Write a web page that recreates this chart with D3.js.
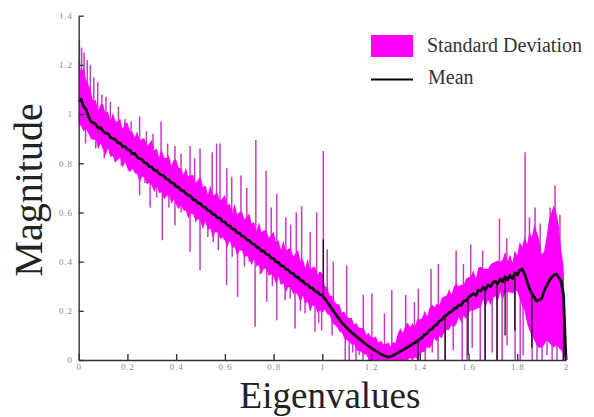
<!DOCTYPE html>
<html><head><meta charset="utf-8">
<script src="https://cdn.jsdelivr.net/npm/d3@7"></script>
<style>body{margin:0;background:#fff;} svg{display:block;}</style>
</head><body>
<svg id="chart" width="594" height="417"></svg>
<script>
const eigenvalues = [
0,0.01,0.02,0.03,0.04,0.05,0.06,0.07,0.08,0.09,
0.10,0.11,0.12,0.13,0.14,0.15,0.16,0.17,0.18,0.19,
0.20,0.21,0.22,0.23,0.24,0.25,0.26,0.27,0.28,0.29,
0.30,0.31,0.32,0.33,0.34,0.35,0.36,0.37,0.38,0.39,
0.40,0.41,0.42,0.43,0.44,0.45,0.46,0.47,0.48,0.49,
0.50,0.51,0.52,0.53,0.54,0.55,0.56,0.57,0.58,0.59,
0.60,0.61,0.62,0.63,0.64,0.65,0.66,0.67,0.68,0.69,
0.70,0.71,0.72,0.73,0.74,0.75,0.76,0.77,0.78,0.79,
0.80,0.81,0.82,0.83,0.84,0.85,0.86,0.87,0.88,0.89,
0.90,0.91,0.92,0.93,0.94,0.95,0.96,0.97,0.98,0.99,
1.00,1.01,1.02,1.03,1.04,1.05,1.06,1.07,1.08,1.09,
1.10,1.11,1.12,1.13,1.14,1.15,1.16,1.17,1.18,1.19,
1.20,1.21,1.22,1.23,1.24,1.25,1.26,1.27,1.28,1.29,
1.30,1.31,1.32,1.33,1.34,1.35,1.36,1.37,1.38,1.39,
1.40,1.41,1.42,1.43,1.44,1.45,1.46,1.47,1.48,1.49,
1.50,1.51,1.52,1.53,1.54,1.55,1.56,1.57,1.58,1.59,
1.60,1.61,1.62,1.63,1.64,1.65,1.66,1.67,1.68,1.69,
1.70,1.71,1.72,1.73,1.74,1.75,1.76,1.77,1.78,1.79,
1.80,1.81,1.82,1.83,1.84,1.85,1.86,1.87,1.88,1.89,
1.90,1.91,1.92,1.93,1.94,1.95,1.96,1.97,1.98,1.99,
2.00];

const meanVals = [
1.05,1.06,1.03,1.02,0.99,0.97,0.965,0.958,0.942,0.945,
0.930,0.922,0.921,0.905,0.900,0.898,0.884,0.882,0.868,0.869,
0.855,0.853,0.838,0.840,0.825,0.818,0.815,0.802,0.800,0.786,
0.785,0.772,0.770,0.758,0.752,0.748,0.735,0.733,0.720,0.718,
0.705,0.703,0.690,0.688,0.676,0.670,0.666,0.652,0.650,0.638,
0.636,0.622,0.621,0.608,0.606,0.593,0.590,0.578,0.577,0.563,
0.561,0.548,0.546,0.533,0.531,0.518,0.516,0.504,0.501,0.489,
0.486,0.474,0.471,0.459,0.456,0.444,0.442,0.429,0.427,0.414,
0.412,0.399,0.397,0.384,0.382,0.369,0.367,0.354,0.352,0.339,
0.337,0.324,0.322,0.309,0.307,0.294,0.292,0.279,0.277,0.266,
0.262,0.250,0.236,0.222,0.206,0.193,0.178,0.166,0.152,0.142,
0.131,0.121,0.112,0.104,0.095,0.087,0.079,0.071,0.063,0.056,
0.049,0.042,0.036,0.030,0.024,0.019,0.015,0.012,0.014,0.018,
0.024,0.029,0.035,0.040,0.046,0.052,0.058,0.064,0.071,0.078,
0.085,0.092,0.104,0.108,0.122,0.126,0.139,0.144,0.158,0.163,
0.178,0.182,0.193,0.196,0.209,0.211,0.224,0.222,0.240,0.241,
0.256,0.262,0.270,0.262,0.285,0.280,0.296,0.286,0.305,0.298,
0.315,0.320,0.310,0.330,0.318,0.340,0.325,0.345,0.330,0.355,
0.345,0.365,0.370,0.350,0.320,0.290,0.270,0.255,0.240,0.245,
0.250,0.280,0.300,0.320,0.335,0.345,0.350,0.335,0.320,0.260,
0];

const upperVals = [
1.22,1.17,1.19,1.14,1.12,1.09,1.05,1.058,1.012,1.04,
1.04,1.002,1.011,0.97,1.005,0.973,0.969,0.982,0.938,0.964,
0.965,0.933,0.928,0.905,0.93,0.893,0.90,0.902,0.87,0.881,
0.895,0.852,0.86,0.823,0.857,0.823,0.82,0.833,0.79,0.813,
0.815,0.783,0.78,0.753,0.781,0.745,0.751,0.752,0.72,0.733,
0.746,0.702,0.711,0.673,0.711,0.668,0.675,0.678,0.647,0.658,
0.671,0.628,0.636,0.598,0.636,0.593,0.601,0.604,0.571,0.584,
0.596,0.554,0.561,0.524,0.561,0.519,0.527,0.529,0.497,0.509,
0.522,0.479,0.487,0.449,0.487,0.444,0.452,0.454,0.422,0.434,
0.447,0.404,0.412,0.374,0.412,0.369,0.377,0.379,0.347,0.361,
0.352,0.30,0.296,0.262,0.261,0.238,0.228,0.226,0.192,0.197,
0.176,0.171,0.172,0.144,0.15,0.132,0.129,0.131,0.103,0.111,
0.094,0.092,0.096,0.07,0.079,0.064,0.065,0.072,0.054,0.073,
0.069,0.109,0.13,0.11,0.136,0.152,0.133,0.149,0.136,0.168,
0.165,0.172,0.199,0.178,0.212,0.226,0.214,0.229,0.223,0.253,
0.258,0.262,0.288,0.266,0.299,0.311,0.299,0.307,0.305,0.331,
0.336,0.342,0.365,0.332,0.375,0.38,0.371,0.371,0.37,0.388,
0.395,0.40,0.405,0.40,0.408,0.44,0.40,0.43,0.395,0.445,
0.425,0.48,0.46,0.50,0.47,0.52,0.50,0.55,0.52,0.49,
0.43,0.44,0.50,0.57,0.60,0.63,0.60,0.55,0.45,0.38,
0.02];

const lowerVals = [
0.96,0.95,0.93,0.94,0.92,0.90,0.895,0.898,0.857,0.88,
0.855,0.832,0.861,0.825,0.83,0.803,0.814,0.822,0.783,0.804,
0.78,0.763,0.778,0.76,0.755,0.723,0.745,0.742,0.715,0.721,
0.71,0.682,0.71,0.678,0.682,0.653,0.665,0.673,0.635,0.653,
0.63,0.613,0.63,0.608,0.606,0.575,0.596,0.592,0.565,0.573,
0.561,0.532,0.561,0.528,0.536,0.498,0.52,0.518,0.492,0.498,
0.486,0.458,0.486,0.453,0.461,0.423,0.446,0.444,0.416,0.424,
0.411,0.384,0.411,0.379,0.386,0.349,0.372,0.369,0.342,0.349,
0.337,0.309,0.337,0.304,0.312,0.274,0.297,0.294,0.267,0.274,
0.262,0.234,0.262,0.229,0.237,0.199,0.222,0.219,0.192,0.201,
0.192,0.205,0.186,0.182,0.151,0.143,0.133,0.116,0.112,0.087,
0.081,0.076,0.062,0.064,0.04,0.037,0.034,0.021,0.023,0.001,
0,0,0,0,0,0,0,0,0,0,
0,0,0,0,0,0,0.008,0,0.011,0.003,
0.02,0.032,0.034,0.053,0.047,0.061,0.089,0.074,0.098,0.088,
0.113,0.122,0.123,0.141,0.134,0.146,0.174,0.152,0.18,0.166,
0.191,0.202,0.20,0.207,0.21,0.215,0.246,0.216,0.245,0.223,
0.25,0.26,0.24,0.275,0.243,0.275,0.275,0.275,0.27,0.28,
0.28,0.25,0.22,0.20,0.15,0.12,0.10,0.08,0.06,0.05,
0.05,0.06,0.08,0.07,0.06,0.05,0.06,0.05,0.04,0.02,
0];

// narrow upward excursions of the standard-deviation band
const spikeUpX = [0.003,0.012,0.022,0.035,0.048,0.062,0.078,0.095,0.112,0.13,0.163,0.19,0.215,0.25,0.278,0.305,0.338,0.365,0.395,0.42,0.457,0.476,0.498,0.548,0.566,0.58,0.608,0.628,0.666,0.69,0.727,0.769,0.79,0.813,0.85,0.87,0.893,0.915,0.95,0.977,1.004,1.02,1.045,1.10,1.168,1.203,1.255,1.285,1.342,1.378,1.394,1.446,1.476,1.549,1.579,1.609,1.658,1.727,1.757,1.832,1.85,1.873,1.894,1.935,1.955,1.975];
const spikeUpTop = [1.30,1.27,1.25,1.22,1.20,1.15,1.13,1.08,1.07,1.05,1.03,0.98,0.97,0.99,0.93,0.92,0.97,0.88,0.87,0.84,0.87,0.82,0.86,0.845,0.88,0.88,0.78,0.745,0.75,0.70,0.895,0.77,0.62,0.675,0.58,0.55,0.60,0.625,0.52,0.60,0.85,0.45,0.40,0.385,0.265,0.27,0.19,0.285,0.265,0.235,0.29,0.37,0.39,0.445,0.39,0.47,0.445,0.575,0.495,0.845,0.58,0.62,0.555,0.62,0.71,0.59];
// narrow downward excursions
const spikeDownX = [0.028,0.07,0.105,0.149,0.175,0.204,0.25,0.272,0.293,0.32,0.343,0.37,0.395,0.42,0.457,0.48,0.498,0.53,0.552,0.573,0.607,0.63,0.652,0.68,0.70,0.724,0.745,0.772,0.795,0.813,0.847,0.868,0.888,0.91,0.929,0.95,0.97,0.985,0.997,1.04,1.094,1.11,1.125,1.138,1.152,1.167,1.191,1.224,1.348,1.369,1.393,1.422,1.451,1.475,1.504,1.537,1.574,1.594,1.615,1.648,1.668,1.697,1.717,1.738,1.758,1.791,1.812,1.824,1.861,1.881,1.902,1.922,1.943,1.963,1.988];
const spikeDownBottom = [0.88,0.86,0.82,0.81,0.79,0.77,0.67,0.72,0.62,0.66,0.487,0.62,0.548,0.60,0.44,0.56,0.365,0.50,0.48,0.446,0.304,0.42,0.257,0.38,0.40,0.135,0.35,0.237,0.30,0.162,0.243,0.25,0.128,0.20,0.19,0.20,0.115,0.15,0.12,0.10,0,0,0.03,0,0.02,0,0,0,0,0,0,0,0.03,0,0,0.04,0,0,0.05,0,0,0.03,0,0,0.06,0,0,0.02,0,0,0,0.02,0,0,0];
// narrow excursions of the mean
const meanSpikeX = [1.004,1.393,1.504,1.598,1.668,1.717,1.75,1.79,1.86,1.99];
const meanSpikeVal = [0.49,0.0,0.0,0.02,0.0,0.0,0.1,0.12,0.05,0.0];

const xTicks = [0,0.2,0.4,0.6,0.8,1,1.2,1.4,1.6,1.8,2];
const xTickLabels = ["0","0.2","0.4","0.6","0.8","1","1.2","1.4","1.6","1.8","2"];
const yTicks = [0,0.2,0.4,0.6,0.8,1,1.2,1.4];
const yTickLabels = ["0","0.2","0.4","0.6","0.8","1","1.2","1.4"];

const SERIF = "'Liberation Serif','Times New Roman',serif";
const svg = d3.select("#chart");
const x = d3.scaleLinear().domain([0, 2]).range([78.7, 566]);
const y = d3.scaleLinear().domain([0, 1.4]).range([360, 15.7]);

const rows = eigenvalues.map((v, i) => ({x: v, m: meanVals[i], u: upperVals[i], l: lowerVals[i]}));
const bis = d3.bisector(d => d.x).center;
const meanAt = v => rows[bis(rows, v)].m;

const spikeColor = "#c43cc4";
const gSp = svg.append("g");
gSp.selectAll("line.up").data(spikeUpX).join("line").attr("class", "up")
  .attr("x1", d => x(d)).attr("x2", d => x(d))
  .attr("y1", d => y(meanAt(d))).attr("y2", (d, i) => y(spikeUpTop[i]))
  .attr("stroke", spikeColor).attr("stroke-width", 1.5);
gSp.selectAll("line.dn").data(spikeDownX).join("line").attr("class", "dn")
  .attr("x1", d => x(d)).attr("x2", d => x(d))
  .attr("y1", d => y(meanAt(d))).attr("y2", (d, i) => y(spikeDownBottom[i]))
  .attr("stroke", spikeColor).attr("stroke-width", 1.5);

svg.append("path").datum(rows)
  .attr("d", d3.area().x(d => x(d.x)).y0(d => y(d.l)).y1(d => y(d.u)))
  .attr("fill", "#ff00ff");

svg.append("g").selectAll("line").data(meanSpikeX).join("line")
  .attr("x1", d => x(d)).attr("x2", d => x(d))
  .attr("y1", d => y(meanAt(d))).attr("y2", (d, i) => y(meanSpikeVal[i]))
  .attr("stroke", "#111").attr("stroke-width", 1.3);

svg.append("path").datum(rows)
  .attr("d", d3.line().x(d => x(d.x)).y(d => y(d.m)))
  .attr("fill", "none").attr("stroke", "#000").attr("stroke-width", 2.7)
  .attr("stroke-linejoin", "round");

// axes
const axColor = "#333";
const gx = svg.append("g").attr("transform", "translate(0,360)")
  .call(d3.axisBottom(x).tickValues(xTicks).tickFormat((d, i) => xTickLabels[i])
    .tickSizeInner(-6).tickSizeOuter(0).tickPadding(4));
const gy = svg.append("g").attr("transform", "translate(78.7,0)")
  .call(d3.axisLeft(y).tickValues(yTicks).tickFormat((d, i) => yTickLabels[i])
    .tickSizeInner(-5).tickSizeOuter(0).tickPadding(6));
[gx, gy].forEach(g => {
  g.select(".domain").attr("stroke", axColor).attr("stroke-width", 1.4);
  g.selectAll(".tick line").attr("stroke", axColor).attr("stroke-width", 1.4);
  g.selectAll(".tick text").attr("fill", "#8a8a8a")
    .style("font-family", SERIF).style("font-size", "9px").style("letter-spacing", "0.8px");
});

// axis titles
svg.append("text").attr("x", 330).attr("y", 408).attr("text-anchor", "middle")
  .style("font-family", SERIF).style("font-size", "37px").attr("fill", "#222").text("Eigenvalues");
svg.append("text").attr("transform", "translate(42,190) rotate(-90)").attr("text-anchor", "middle")
  .style("font-family", SERIF).style("font-size", "40px").attr("fill", "#222").text("Magnitude");

// legend
const lg = svg.append("g");
lg.append("rect").attr("x", 371).attr("y", 35).attr("width", 42).attr("height", 22).attr("fill", "#ff00ff");
lg.append("text").attr("x", 427).attr("y", 52).style("font-family", SERIF).style("font-size", "20px")
  .attr("fill", "#333").text("Standard Deviation");
lg.append("line").attr("x1", 371).attr("x2", 413).attr("y1", 79.5).attr("y2", 79.5)
  .attr("stroke", "#000").attr("stroke-width", 2);
lg.append("text").attr("x", 428).attr("y", 84).style("font-family", SERIF).style("font-size", "20px")
  .attr("fill", "#333").text("Mean");
</script>
</body></html>
